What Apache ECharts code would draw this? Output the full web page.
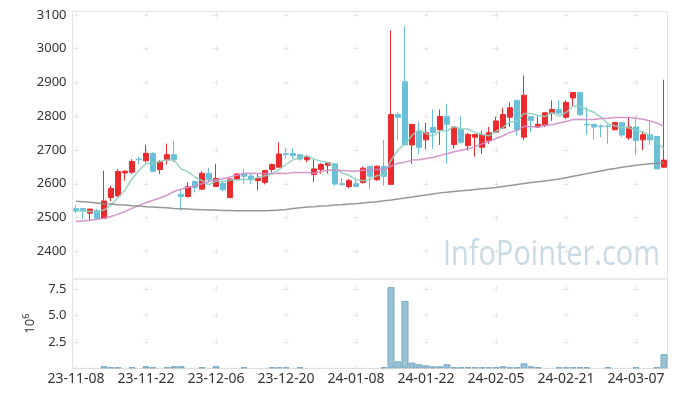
<!DOCTYPE html>
<html>
<head>
<meta charset="utf-8">
<script src="https://cdn.jsdelivr.net/npm/echarts@6/dist/echarts.min.js"></script>
<style>
  html, body { margin: 0; padding: 0; background: #fff; }
  #chart { width: 677px; height: 397px; }
</style>
</head>
<body>
<div id="chart"></div>
<script>
  // trading days
  const dates = [
    '23-11-08','23-11-09','23-11-10','23-11-13','23-11-14','23-11-15','23-11-16','23-11-17','23-11-20','23-11-21',
    '23-11-22','23-11-23','23-11-24','23-11-27','23-11-28','23-11-29','23-11-30','23-12-01','23-12-04','23-12-05',
    '23-12-06','23-12-07','23-12-08','23-12-11','23-12-12','23-12-13','23-12-14','23-12-15','23-12-18','23-12-19',
    '23-12-20','23-12-21','23-12-22','23-12-26','23-12-27','23-12-28','24-01-02','24-01-03','24-01-04','24-01-05',
    '24-01-08','24-01-09','24-01-10','24-01-11','24-01-12','24-01-15','24-01-16','24-01-17','24-01-18','24-01-19',
    '24-01-22','24-01-23','24-01-24','24-01-25','24-01-26','24-01-29','24-01-30','24-01-31','24-02-01','24-02-02',
    '24-02-05','24-02-06','24-02-07','24-02-08','24-02-13','24-02-14','24-02-15','24-02-16','24-02-19','24-02-20',
    '24-02-21','24-02-22','24-02-23','24-02-26','24-02-27','24-02-28','24-02-29','24-03-04','24-03-05','24-03-06',
    '24-03-07','24-03-08','24-03-11','24-03-12','24-03-13'
  ]

  const opens = [
    2526, 2527, 2513, 2520, 2498, 2559, 2564, 2632, 2634, 2673,
    2668, 2690, 2642, 2671, 2686, 2569, 2562, 2607, 2584, 2631,
    2592, 2601, 2559, 2614, 2631, 2623, 2609, 2604, 2642, 2649,
    2689, 2690, 2686, 2671, 2627, 2642, 2655, 2659, 2600, 2592,
    2600, 2604, 2652, 2612, 2651, 2598, 2805, 2902, 2715, 2755,
    2730, 2767, 2760, 2799, 2716, 2761, 2713, 2738, 2708, 2728,
    2753, 2765, 2797, 2847, 2738, 2799, 2768, 2773, 2809, 2820,
    2797, 2854, 2870, 2776, 2776, 2771, 2771, 2760, 2781, 2736,
    2768, 2730, 2745, 2740, 2649
  ]
  const closes = [
    2519, 2520, 2525, 2498, 2549, 2586, 2636, 2637, 2666, 2671,
    2690, 2637, 2666, 2686, 2671, 2562, 2591, 2589, 2631, 2612,
    2616, 2582, 2614, 2629, 2622, 2612, 2616, 2639, 2657, 2688,
    2687, 2683, 2673, 2680, 2644, 2657, 2662, 2599, 2598, 2609,
    2592, 2646, 2622, 2652, 2622, 2805, 2797, 2715, 2776, 2708,
    2751, 2751, 2799, 2776, 2768, 2723, 2746, 2746, 2746, 2751,
    2786, 2805, 2825, 2760, 2862, 2787, 2776, 2810, 2820, 2809,
    2841, 2870, 2804, 2774, 2768, 2769, 2769, 2781, 2744, 2768,
    2728, 2745, 2730, 2644, 2670
  ]
  const lows = [
    2512, 2495, 2490, 2496, 2496, 2549, 2562, 2609, 2629, 2657,
    2663, 2634, 2629, 2657, 2663, 2520, 2559, 2574, 2584, 2604,
    2590, 2578, 2557, 2612, 2598, 2598, 2580, 2598, 2633, 2649,
    2674, 2674, 2668, 2664, 2605, 2630, 2630, 2594, 2594, 2587,
    2591, 2600, 2584, 2608, 2594, 2598, 2728, 2715, 2659, 2688,
    2703, 2703, 2715, 2659, 2703, 2718, 2698, 2680, 2688, 2718,
    2750, 2763, 2768, 2743, 2730, 2753, 2766, 2768, 2786, 2806,
    2792, 2828, 2802, 2745, 2730, 2738, 2718, 2758, 2738, 2730,
    2686, 2700, 2715, 2644, 2649
  ]
  const highs = [
    2537, 2527, 2526, 2526, 2639, 2594, 2644, 2640, 2673, 2680,
    2715, 2693, 2670, 2719, 2727, 2584, 2604, 2609, 2637, 2647,
    2659, 2610, 2616, 2632, 2644, 2631, 2629, 2641, 2660, 2722,
    2705, 2705, 2688, 2685, 2674, 2661, 2664, 2659, 2617, 2614,
    2617, 2651, 2652, 2654, 2730, 3053, 2812, 3067, 2776, 2783,
    2780, 2820, 2820, 2837, 2768, 2799, 2751, 2746, 2758, 2768,
    2798, 2825, 2841, 2847, 2921, 2799, 2799, 2812, 2847, 2848,
    2848, 2870, 2870, 2827, 2776, 2776, 2776, 2783, 2783, 2796,
    2798, 2755, 2788, 2740, 2908
  ]

  // moving averages (5, 20 and long)
  const ma5 = [
    2520, 2519, 2518, 2517, 2522, 2536, 2559, 2581, 2615, 2639,
    2660, 2660, 2666, 2670, 2670, 2644, 2635, 2620, 2609, 2597,
    2608, 2606, 2611, 2611, 2613, 2612, 2619, 2624, 2629, 2642,
    2657, 2671, 2678, 2682, 2673, 2667, 2663, 2648, 2632, 2625,
    2612, 2609, 2613, 2624, 2627, 2669, 2700, 2718, 2743, 2760,
    2749, 2740, 2757, 2757, 2769, 2763, 2762, 2752, 2746, 2742,
    2755, 2767, 2783, 2785, 2808, 2808, 2802, 2799, 2811, 2800,
    2811, 2830, 2829, 2820, 2811, 2797, 2777, 2772, 2766, 2766,
    2758, 2753, 2743, 2723, 2703
  ]
  const ma20 = [
    2488, 2490, 2492, 2495, 2498, 2503, 2510, 2518, 2527, 2536,
    2544, 2551, 2558, 2566, 2577, 2584, 2589, 2594, 2600, 2607,
    2612, 2615, 2620, 2626, 2630, 2631, 2630, 2630, 2630, 2631,
    2630, 2633, 2633, 2633, 2631, 2636, 2640, 2640, 2639, 2638,
    2637, 2640, 2641, 2642, 2642, 2652, 2661, 2664, 2670, 2671,
    2675, 2678, 2684, 2689, 2695, 2699, 2703, 2710, 2718, 2725,
    2734, 2742, 2752, 2758, 2770, 2769, 2768, 2773, 2775, 2780,
    2784, 2790, 2791, 2790, 2790, 2793, 2794, 2796, 2796, 2796,
    2794, 2791, 2786, 2780, 2770
  ]
  const maLong = [
    2548, 2547, 2545, 2543, 2541, 2540, 2538, 2537, 2535, 2534,
    2532, 2531, 2530, 2529, 2527, 2526, 2525, 2524, 2523, 2522,
    2522, 2521, 2521, 2520, 2520, 2520, 2520, 2520, 2521, 2522,
    2524, 2527, 2529, 2531, 2532, 2534, 2535, 2537, 2538, 2540,
    2541, 2543, 2545, 2547, 2550, 2552, 2555, 2558, 2561, 2564,
    2567, 2570, 2573, 2575, 2577, 2579, 2581, 2583, 2585, 2587,
    2589, 2592, 2595, 2598, 2601, 2604, 2606, 2608, 2611, 2614,
    2618, 2622, 2626, 2630, 2634, 2638, 2642, 2645, 2649, 2652,
    2655, 2657, 2659, 2661, 2662
  ]

  // volume, millions of shares (null = too small to show)
  const volumes = [
    null, null, null, null, 0.2, 0.1, 0.1, null, 0.1, null,
    0.2, 0.1, null, 0.1, 0.2, 0.2, null, null, 0.1, null,
    0.2, null, null, null, 0.1, null, null, null, 0.1, 0.1,
    0.1, null, 0.1, null, null, null, null, null, null, null,
    null, null, null, null, 0.1, 7.67, 0.66, 6.37, 0.54, 0.38,
    0.28, 0.19, 0.19, 0.38, 0.1, 0.1, 0.1, 0.1, 0.1, 0.1,
    0.1, 0.19, 0.1, 0.1, 0.47, 0.19, 0.1, null, null, 0.1,
    0.1, 0.1, 0.1, 0.1, null, null, 0.1, null, null, null,
    0.1, null, null, 0.1, 1.33
  ]

  const upColor = '#ec2b2f'
  const downColor = '#6bc0d9'
  const gridColor = '#e4e4e4'
  const labelFont = 'Noto Sans'

  const candles = dates.map((d, i) => [opens[i], closes[i], lows[i], highs[i]])

  // squeeze the watermark to its width in the picture
  const ctx = document.createElement('canvas').getContext('2d')
  ctx.font = '34px "Open Sans"'
  const wmScale = 217 / ctx.measureText('InfoPointer.com').width

  const chart = echarts.init(document.getElementById('chart'))

  chart.setOption({
    animation: false,
    backgroundColor: '#fff',
    graphic: [{
      type: 'text',
      x: 443,
      y: 238,
      scaleX: wmScale,
      z: -10,
      style: {
        text: 'InfoPointer.com',
        font: '34px "Open Sans"',
        fill: '#c8dbe5',
        verticalAlign: 'top'
      }
    }],
    grid: [
      { left: 72.5, right: 9.5, top: 11.5, height: 267.5, show: true, borderColor: '#e4e4e4' },
      { left: 72.5, right: 9.5, top: 279, height: 89.3, show: true, borderColor: '#e4e4e4' }
    ],
    xAxis: [
      {
        type: 'category',
        gridIndex: 0,
        data: dates,
        axisLine: { show: false },
        axisTick: { show: false },
        axisLabel: { show: false },
        splitLine: {
          show: true,
          interval: 9,
          alignWithLabel: true,
          lineStyle: { color: gridColor, type: [5, 28.78], dashOffset: -0.9 }
        }
      },
      {
        type: 'category',
        gridIndex: 1,
        data: dates,
        axisLine: { lineStyle: { color: '#dddddd' } },
        axisTick: { show: false },
        axisLabel: { interval: 9, color: '#333', fontSize: 14, fontFamily: labelFont, margin: 4 },
        splitLine: {
          show: true,
          interval: 9,
          alignWithLabel: true,
          lineStyle: { color: gridColor, type: [5, 21.36], dashOffset: -7.4 }
        }
      }
    ],
    yAxis: [
      {
        type: 'value',
        gridIndex: 0,
        min: 2318,
        max: 3110,
        splitNumber: 8,
        axisLine: { show: false },
        axisTick: { show: false },
        axisLabel: {
          color: '#333', fontSize: 13, fontFamily: labelFont, margin: 6,
          formatter: v => (v % 100 === 0 ? String(v) : '')
        },
        splitLine: { lineStyle: { color: gridColor, type: [5, 65], dashOffset: -1 } }
      },
      {
        type: 'value',
        gridIndex: 1,
        min: 0,
        max: 8.44,
        interval: 2.5,
        axisLine: { show: false },
        axisTick: { show: false },
        axisLabel: {
          color: '#333', fontSize: 13, fontFamily: labelFont, margin: 6,
          formatter: v => (v > 0 && v < 8 ? v.toFixed(1) : '')
        },
        splitLine: { lineStyle: { color: gridColor, type: [5, 65], dashOffset: -1 } },
        name: '10{s|6}',
        nameLocation: 'middle',
        nameRotate: 90,
        nameGap: 30,
        nameTextStyle: {
          color: '#333', fontSize: 13, fontFamily: labelFont,
          rich: { s: { color: '#333', fontSize: 9, fontFamily: labelFont, padding: [0, 0, 8, 0] } }
        }
      }
    ],
    series: [
      {
        name: 'price',
        type: 'candlestick',
        xAxisIndex: 0,
        yAxisIndex: 0,
        data: candles,
        barWidth: 5,
        itemStyle: {
          color: upColor,
          color0: downColor,
          borderColor: upColor,
          borderColor0: downColor,
          borderWidth: 1
        }
      },
      {
        name: 'MA5',
        type: 'line',
        data: ma5,
        showSymbol: false,
        z: 3,
        lineStyle: { color: '#8dcfbf', width: 1.5, opacity: 0.9 }
      },
      {
        name: 'MA20',
        type: 'line',
        data: ma20,
        showSymbol: false,
        z: 3,
        lineStyle: { color: '#cf8cc6', width: 1.5, opacity: 0.9 }
      },
      {
        name: 'MA',
        type: 'line',
        data: maLong,
        showSymbol: false,
        z: 3,
        lineStyle: { color: '#8c8c8c', width: 1.5, opacity: 0.9 }
      },
      {
        name: 'volume',
        type: 'bar',
        xAxisIndex: 1,
        yAxisIndex: 1,
        data: volumes,
        barWidth: 7,
        itemStyle: { color: '#9ac2d5', borderColor: '#78a9c1', borderWidth: 1 }
      }
    ]
  })
</script>
</body>
</html>
